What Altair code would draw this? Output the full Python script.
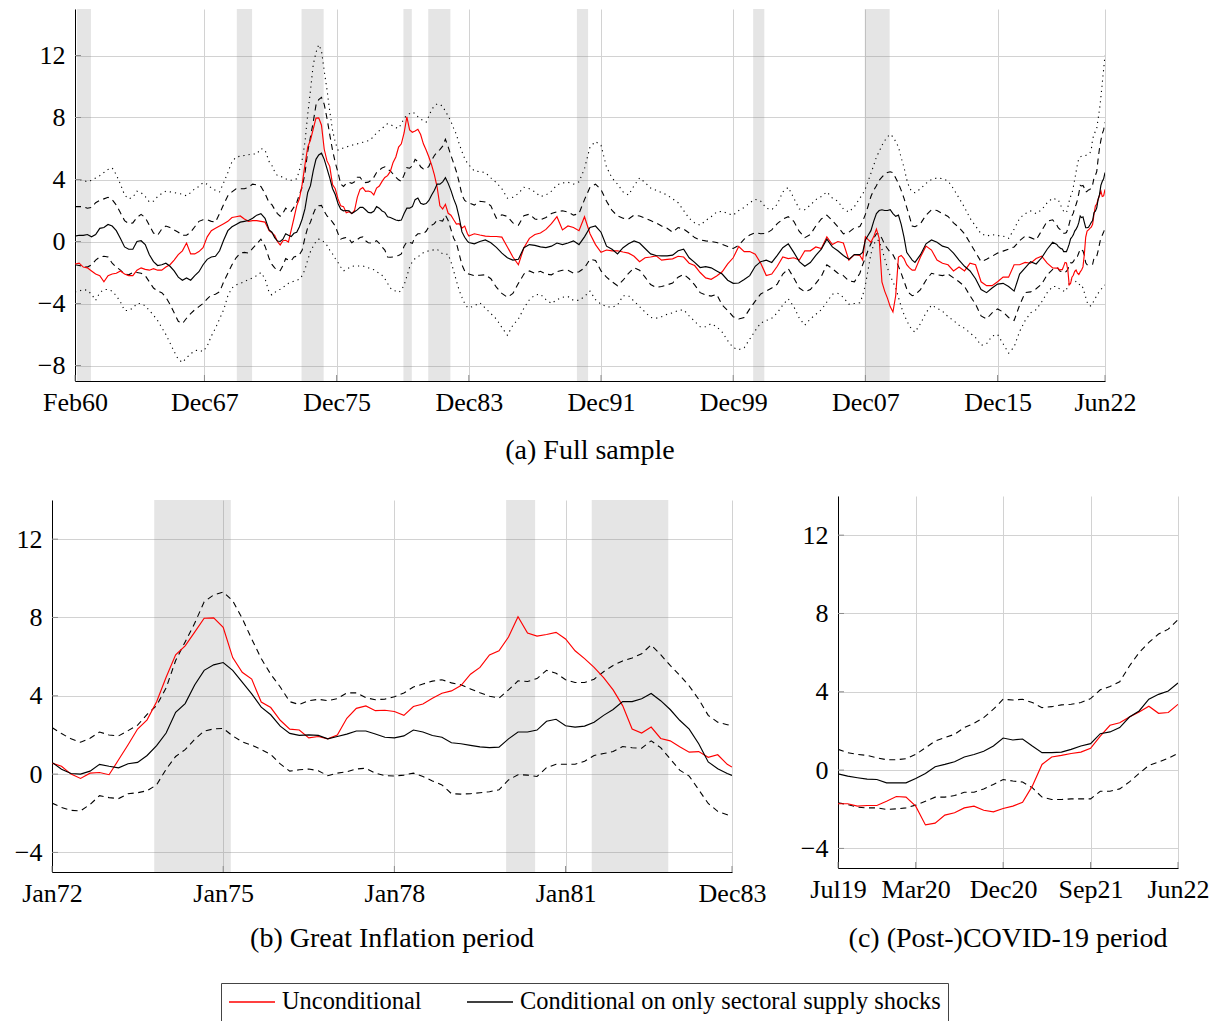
import altair as alt
import pandas as pd

FONT = "Liberation Serif"

# Sampling grid of the series: (first month, last month, step in months)
GRID = [
    ("1960-02", "1971-11", 3),
    ("1972-01", "1983-11", 2),
    ("1983-12", "1983-12", 1),
    ("1984-04", "2007-08", 4),
    ("2007-10", "2010-12", 2),
    ("2011-04", "2019-04", 4),
    ("2019-07", "2022-06", 1),
]

# Unconditional forecast-error series (red)
unconditional = [
    -1.45, -1.4, -1.65, -1.7, -1.9, -2.1, -2.2, -2.6, -2.2, -2.1, -2.05, -1.9, -2.1, -2.2, -2.2, -1.85,
    -1.7, -1.8, -1.85, -1.75, -1.85, -1.85, -1.65, -1.5, -1.2, -0.85, -0.6, -0.1, -0.8, -0.8, -0.65, -0.4,
    0.3, 0.7, 0.85, 1.0, 1.15, 1.3, 1.55, 1.6, 1.65, 1.45, 1.3, 1.35, 1.35, 1.3, 1.25, 0.7,
    0.56, 0.4, 0.0, -0.22, 0.05, 0.08, -0.03, 0.73, 1.5, 2.3, 2.77, 3.7, 4.95, 6.09, 6.55, 7.25,
    7.96, 7.98, 7.5, 5.95, 5.2, 4.85, 3.68, 3.4, 2.75, 2.3, 2.25, 1.85, 1.92, 1.8, 2.0, 2.85,
    3.36, 3.48, 3.24, 3.26, 3.2, 3.0, 3.45, 3.58, 3.88, 4.13, 4.25, 4.52, 5.1, 5.45, 6.09, 6.3,
    7.0, 8.04, 7.2, 7.05, 7.13, 7.24, 6.9, 6.3, 5.9, 5.45, 4.93, 4.3, 3.5, 2.3, 2.1, 2.4,
    1.82, 1.7, 1.4, 1.12, 1.15, 0.86, 0.99, 0.5, 0.36,
    0.5, 0.42, 0.35, 0.32, 0.32, 0.28, -0.35, -1.0, -1.5, -0.4, 0.2, 0.45, 0.55, 0.78, 1.15, 1.6,
    0.75, 1.0, 0.9, 0.7, 1.6, 0.5, -0.2, -0.7, -0.55, -0.6, -0.6, -0.68, -0.75, -0.95, -1.3, -1.05,
    -1.0, -0.93, -1.2, -1.15, -1.12, -0.95, -1.0, -1.4, -1.55, -2.0, -2.35, -2.44, -2.22, -1.95, -1.45, -1.05,
    -0.32, -0.65, -0.65, -0.82, -1.4, -2.2, -2.1, -1.6, -1.0, -1.1, -1.05, -1.2, -0.6, -0.6, -0.35, -0.45,
    0.3, -0.2, 0.0, -0.1, -1.2, -0.85, -0.9,
    -1.2, 0.3, 0.12, -0.05, 0.3, 0.8, 0.2, -2.6, -3.2, -3.65, -4.2, -4.55, -3.5, -1.0, -0.9, -1.1,
    -1.5, -1.7, -1.85, -1.85,
    -1.0, -0.3, -0.55, -1.2, -1.4, -1.5, -1.9, -1.65, -1.9, -1.4, -1.5, -2.6, -2.85, -2.85, -2.6, -2.3,
    -2.3, -1.5, -1.5, -1.35, -1.4, -1.1, -0.95, -1.4, -1.7,
    -1.72, -1.72, -1.84, -1.81, -1.81, -1.59, -1.35, -1.38, -1.84, -2.8, -2.71, -2.3, -2.18, -1.93, -1.84, -2.05,
    -2.13, -1.96, -1.84, -1.64, -0.82, 0.29, 0.67, 0.75, 0.85, 0.92, 1.11, 1.74, 2.29, 2.42, 2.71, 2.97,
    3.26, 2.9, 2.94, 3.36,
]

# Conditional on only sectoral supply shocks: median (black solid)
conditional = [
    0.35, 0.4, 0.4, 0.45, 0.3, 0.45, 0.85, 0.9, 1.1, 1.0, 0.7, 0.2, -0.35, -0.5, -0.5, 0.0,
    0.05, -0.2, -0.85, -1.3, -1.55, -1.5, -1.4, -1.6, -1.9, -2.3, -2.5, -2.35, -2.5, -2.2, -1.95, -1.5,
    -1.15, -1.0, -0.95, -0.6, 0.1, 0.7, 0.95, 1.1, 1.25, 1.3, 1.35, 1.5, 1.7, 1.8, 1.5, 0.75,
    0.6, 0.25, 0.03, 0.0, 0.15, 0.5, 0.4, 0.32, 0.53, 0.6, 0.95, 1.45, 2.1, 3.16, 3.6, 4.55,
    5.3, 5.58, 5.7, 5.3, 4.7, 4.1, 3.42, 3.03, 2.45, 2.08, 1.98, 2.0, 1.98, 1.8, 1.92, 2.04,
    2.2, 2.2, 2.05, 1.88, 1.85, 1.95, 2.25, 2.15, 1.97, 1.88, 1.6, 1.55, 1.47, 1.39, 1.35, 1.38,
    1.8, 2.15, 2.15, 2.25, 2.7, 2.8, 2.47, 2.4, 2.45, 2.65, 3.0, 3.3, 3.71, 3.7, 3.85, 4.12,
    3.75, 3.3, 2.75, 2.3, 1.55, 0.62, 0.27, 0.03, -0.07,
    -0.15, 0.0, 0.1, -0.08, -0.38, -0.75, -1.05, -1.2, -1.15, -0.4, -0.2, -0.25, -0.35, -0.39, -0.3, -0.1,
    -0.2, -0.1, 0.04, -0.2, 0.3, 0.9, 1.0, 0.6, -0.3, -0.5, -0.8, -0.4, -0.15, 0.04, -0.1, -0.45,
    -0.8, -0.9, -0.93, -0.93, -0.88, -0.6, -0.5, -1.05, -1.35, -1.68, -1.62, -1.7, -1.9, -2.1, -2.5, -2.7,
    -2.68, -2.45, -2.2, -1.6, -1.3, -1.2, -1.35, -0.9, -0.4, -0.15, -0.7, -1.3, -1.6, -1.36, -0.9, -0.5,
    0.15, -0.35, -0.6, -0.9, -1.15, -0.85, -0.85,
    -0.7, 0.1, 0.4, 0.7, 1.3, 1.8, 2.0, 2.05, 2.0, 2.0, 2.05, 1.8, 1.62, 1.7, 1.1, 0.3,
    -0.7, -0.95, -1.2, -1.35,
    -0.85, -0.15, 0.1, -0.05, -0.3, -0.4, -0.75, -1.2, -1.6, -1.9, -2.4, -3.1, -3.3, -3.0, -2.75, -2.7,
    -2.9, -3.2, -2.1, -1.7, -1.3, -1.45, -1.05, -0.5, -0.05,
    -0.19, -0.31, -0.39, -0.46, -0.48, -0.65, -0.65, -0.65, -0.43, -0.17, 0.17, 0.29, 0.43, 0.67, 0.8, 0.96,
    1.23, 1.64, 1.54, 1.59, 1.23, 0.89, 0.89, 0.92, 1.06, 1.23, 1.35, 1.86, 1.95, 2.17, 2.71, 3.02,
    3.62, 3.87, 4.04, 4.45,
]

# Conditional band, inner (dashed)
upper_68 = [
    2.25, 2.25, 2.25, 2.15, 2.2, 2.5, 2.65, 2.75, 2.85, 2.7, 2.35, 1.85, 1.35, 1.15, 1.2, 1.55,
    1.75, 1.55, 1.05, 0.55, 0.4, 0.8, 1.0, 0.9, 0.75, 0.6, 0.4, 0.4, 0.6, 0.95, 1.3, 1.4,
    1.4, 1.3, 1.25, 1.8, 2.4, 2.95, 3.2, 3.4, 3.4, 3.4, 3.5, 3.7, 3.65, 3.55, 3.1, 2.5,
    2.38, 2.07, 1.8, 1.63, 1.83, 2.15, 2.0, 1.95, 2.22, 2.5, 3.05, 3.5, 4.4, 5.8, 6.75, 7.7,
    8.8, 9.15, 9.3, 8.85, 7.95, 6.9, 5.9, 5.1, 4.45, 3.7, 3.55, 3.75, 3.82, 3.75, 3.85, 4.15,
    4.15, 3.9, 3.8, 3.83, 3.95, 4.14, 4.45, 4.6, 4.75, 4.82, 4.66, 4.56, 4.35, 4.15, 3.98, 3.88,
    4.3, 4.76, 4.73, 4.88, 5.3, 5.15, 4.82, 4.68, 4.68, 4.85, 5.23, 5.55, 5.78, 5.93, 6.15, 6.6,
    6.1, 5.55, 5.05, 4.5, 3.82, 3.0, 2.65, 2.52, 2.5,
    2.35, 2.6, 2.55, 2.3, 1.5, 1.72, 1.62, 1.2, 1.05, 1.67, 1.76, 1.45, 1.4, 1.55, 1.8, 1.92,
    1.98, 1.9, 1.7, 1.8, 2.7, 3.5, 3.7, 3.35, 2.6, 2.0, 1.65, 1.5, 1.45, 1.7, 1.65, 1.5,
    1.35, 1.2, 1.0, 0.85, 0.6, 0.9, 0.8, 0.55, 0.25, 0.1, 0.04, 0.0, -0.06, -0.18, -0.32, -0.45,
    -0.25, 0.15, 0.42, 0.57, 0.5, 0.52, 0.75, 1.15, 1.45, 1.6, 1.3, 0.65, 0.25, 0.45, 1.0, 1.45,
    1.7, 1.35, 0.95, 0.5, 0.6, 0.88, 0.97,
    1.3, 1.75, 2.3, 2.9, 3.3, 3.6, 3.95, 4.15, 4.35, 4.45, 4.5, 4.45, 4.1, 3.75, 3.3, 2.8,
    2.2, 1.6, 1.0, 0.95,
    1.15, 1.7, 2.05, 2.0, 1.8, 1.62, 1.2, 0.9, 0.5, -0.1, -0.7, -1.3, -1.15, -0.95, -0.75, -0.62,
    -0.5, -0.35, 0.05, 0.35, 0.25, 0.1, 0.7, 1.3, 1.4,
    1.06, 0.89, 0.8, 0.75, 0.63, 0.53, 0.53, 0.58, 0.8, 1.14, 1.48, 1.66, 1.83, 2.17, 2.39, 2.68,
    3.11, 3.62, 3.58, 3.62, 3.45, 3.19, 3.24, 3.33, 3.36, 3.45, 3.65, 4.1, 4.27, 4.51, 5.32, 6.0,
    6.52, 6.95, 7.2, 7.68,
]
lower_68 = [
    -1.5, -1.55, -1.6, -1.65, -1.5, -1.2, -1.0, -0.95, -1.0, -1.4, -1.65, -1.85, -2.1, -2.15, -2.0, -2.0,
    -2.05, -2.2, -2.6, -3.0, -3.2, -3.3, -3.6, -4.05, -4.6, -5.15, -5.3, -4.95, -4.65, -4.4, -4.2, -4.0,
    -3.7, -3.45, -3.4, -3.25, -2.6, -2.05, -1.5, -1.05, -0.75, -0.7, -0.75, -0.45, -0.15, 0.15, -0.3, -1.1,
    -1.48, -1.7, -1.85, -1.88, -1.55, -1.1, -1.2, -1.25, -1.0, -0.95, -0.85, -0.55, 0.25, 0.9, 1.25, 1.77,
    2.2, 2.31, 2.33, 1.95, 1.65, 1.48, 1.25, 1.0, 0.52, 0.15, 0.22, 0.26, 0.17, -0.08, 0.05, 0.12,
    0.26, 0.3, 0.05, -0.08, -0.1, -0.05, 0.05, -0.12, -0.35, -0.55, -1.0, -1.02, -1.0, -0.95, -0.9, -0.8,
    -0.3, -0.03, -0.05, -0.12, 0.33, 0.5, 0.5, 0.5, 0.66, 0.95, 1.05, 1.15, 1.41, 1.35, 1.32, 1.7,
    1.35, 0.78, 0.2, -0.1, -0.8, -1.5, -1.9, -2.08, -2.1,
    -2.2, -2.18, -2.15, -2.4, -2.95, -3.35, -3.6, -3.35, -2.7, -2.1, -1.9, -2.05, -1.92, -2.1, -2.15, -1.95,
    -1.85, -1.85, -2.05, -1.95, -1.7, -1.14, -1.22, -1.9, -2.3, -2.6, -2.85, -2.5, -2.05, -1.7, -1.85, -2.3,
    -2.78, -2.97, -2.9, -2.8, -2.68, -2.3, -2.12, -2.4, -2.8, -3.3, -3.45, -3.52, -3.41, -4.1, -4.45, -4.85,
    -5.0, -4.9, -4.35, -3.85, -3.38, -3.2, -3.0, -2.75, -2.1, -1.75, -2.35, -3.0, -3.25, -3.1, -2.7, -2.25,
    -1.5, -1.75, -2.05, -2.2, -2.55, -2.6, -2.05,
    -1.5, -1.05, -0.55, -0.15, 0.2, 0.5, 0.5, 0.2, -0.2, -0.45, -0.7, -0.85, -1.2, -1.6, -2.05, -2.55,
    -3.05, -3.35, -3.5, -3.45,
    -3.1, -2.5, -2.05, -2.15, -2.2, -2.1, -2.35, -2.6, -2.9, -3.5, -4.05, -4.8, -5.0, -4.6, -4.35, -4.55,
    -4.9, -5.1, -4.1, -3.3, -3.25, -3.05, -2.75, -2.15, -1.8,
    -1.67, -1.76, -1.89, -1.93, -1.93, -2.01, -1.98, -1.93, -1.79, -1.59, -1.38, -1.38, -1.3, -1.13, -1.13, -0.96,
    -0.73, -0.48, -0.56, -0.61, -0.9, -1.38, -1.5, -1.5, -1.47, -1.47, -1.47, -1.08, -1.08, -0.96, -0.6, -0.17,
    0.24, 0.41, 0.61, 0.85,
]

# Conditional band, outer (dotted)
upper_90 = [
    4.0, 4.0, 3.95, 3.85, 3.95, 4.1, 4.25, 4.45, 4.65, 4.75, 4.3, 3.7, 3.0, 2.75, 2.85, 3.25,
    3.15, 2.9, 2.55, 2.6, 2.9, 3.1, 3.25, 3.2, 3.15, 3.1, 3.05, 2.95, 3.15, 3.4, 3.55, 3.8,
    3.7, 3.45, 3.3, 3.2, 3.8, 4.45, 5.15, 5.45, 5.5, 5.55, 5.6, 5.65, 5.65, 6.0, 5.9, 5.15,
    4.9, 4.5, 4.25, 4.2, 4.15, 4.05, 3.95, 3.95, 4.0, 4.04, 4.6, 5.3, 6.4, 8.2, 9.75, 11.4,
    12.2, 12.7, 12.3, 11.0, 9.8, 8.4, 7.2, 6.4, 5.9, 5.95, 6.05, 6.1, 6.15, 6.2, 6.27, 6.3,
    6.35, 6.4, 6.45, 6.5, 6.6, 6.8, 7.0, 7.15, 7.3, 7.45, 7.6, 7.55, 7.45, 7.35, 7.3, 7.6,
    7.95, 8.15, 8.25, 8.35, 8.25, 8.05, 7.9, 7.8, 7.7, 8.1, 8.5, 8.75, 8.88, 8.85, 8.72, 8.4,
    8.1, 7.75, 7.3, 6.9, 6.3, 5.8, 5.35, 5.05, 4.95,
    4.55, 4.5, 4.45, 4.1, 3.8, 3.4, 2.8, 2.85, 3.1, 3.5, 3.4, 3.2, 2.9, 3.0, 3.25, 3.65,
    3.78, 3.82, 3.7, 3.85, 4.7, 6.1, 6.45, 6.2, 4.8, 4.1, 3.7, 3.2, 3.0, 3.6, 4.1, 3.8,
    3.45, 3.3, 3.15, 3.0, 2.75, 2.5, 2.0, 1.5, 1.2, 1.05, 1.35, 1.6, 1.9, 1.95, 1.8, 1.7,
    2.0, 2.2, 2.5, 2.72, 2.6, 2.15, 2.05, 2.4, 3.2, 3.5, 2.8, 2.1, 2.05, 2.35, 2.7, 2.9,
    3.2, 2.8, 2.6, 2.1, 1.9, 2.25, 2.8,
    3.05, 3.4, 3.9, 4.4, 4.9, 5.45, 5.8, 6.2, 6.5, 6.75, 6.92, 6.75, 6.45, 6.1, 5.4, 4.8,
    4.0, 3.45, 3.2, 3.15,
    3.4, 3.75, 4.0, 4.1, 4.05, 3.9, 3.4, 2.8, 2.2, 1.5, 1.0, 0.5, 0.35, 0.45, 0.38, 0.35,
    0.2, 0.8, 1.5, 1.8, 1.97, 1.8, 2.05, 2.5, 2.8,
    2.7, 2.7, 2.5, 2.3, 2.1, 1.95, 1.88, 1.86, 2.2, 2.6, 2.9, 3.1, 3.5, 4.0, 4.5, 5.0,
    5.35, 5.45, 5.5, 5.52, 5.53, 5.55, 5.6, 5.65, 5.7, 5.9, 6.6, 6.9, 7.1, 7.3, 7.9, 8.5,
    9.3, 10.2, 11.1, 12.0,
]
lower_90 = [
    -3.25, -3.2, -3.1, -3.15, -3.4, -3.8, -3.3, -3.1, -3.1, -3.2, -3.5, -3.9, -4.45, -4.45, -4.3, -4.0,
    -4.0, -4.15, -4.45, -4.75, -5.1, -5.55, -6.0, -6.55, -7.1, -7.6, -7.8, -7.5, -7.25, -7.05, -7.0, -7.1,
    -6.75, -6.1, -5.6, -5.0, -4.4, -3.5, -3.0, -2.8, -2.7, -2.6, -2.45, -2.35, -2.2, -2.0, -2.4, -3.3,
    -3.45, -3.3, -3.15, -3.08, -2.95, -2.85, -2.7, -2.63, -2.55, -2.5, -2.44, -2.2, -1.8, -1.2, -0.65, -0.3,
    0.0, 0.15, 0.1, -0.05, -0.25, -0.55, -0.8, -1.1, -1.35, -1.65, -1.9, -1.8, -1.7, -1.6, -1.58, -1.58,
    -1.58, -1.58, -1.63, -1.7, -1.75, -1.82, -1.95, -2.05, -2.18, -2.4, -2.7, -3.0, -3.15, -3.2, -3.28, -3.15,
    -2.8, -2.25, -1.65, -1.3, -1.1, -1.0, -0.85, -0.72, -0.65, -0.6, -0.57, -0.53, -0.5, -0.65, -0.8, -0.82,
    -0.82, -1.3, -1.9, -2.55, -3.15, -3.6, -4.0, -4.25, -4.28,
    -4.15, -3.95, -4.3, -4.65, -5.0, -5.55, -6.05, -5.4, -5.0, -4.3, -3.75, -3.45, -3.4, -3.75, -4.0, -3.75,
    -3.6, -3.55, -3.8, -3.8, -3.55, -3.2, -3.75, -4.05, -4.2, -4.25, -4.1, -3.5, -3.5, -3.85, -4.2, -4.55,
    -4.9, -4.95, -4.85, -4.7, -4.6, -4.45, -4.4, -4.8, -5.15, -5.5, -5.5, -5.3, -5.5, -5.85, -6.4, -6.85,
    -6.98, -6.85, -6.3, -5.75, -5.25, -5.1, -4.95, -4.6, -4.1, -3.7, -4.2, -4.95, -5.4, -5.0, -4.7, -4.4,
    -3.9, -3.4, -3.35, -3.6, -4.05, -4.0, -3.95,
    -3.5, -2.8, -1.8, -0.8, -0.2, 0.1, 0.05, -0.5, -1.1, -1.7, -2.2, -2.6, -3.0, -3.6, -4.2, -4.7,
    -5.1, -5.45, -5.7, -5.85,
    -5.3, -4.6, -4.1, -4.3, -4.5, -4.85, -5.1, -5.4, -5.6, -5.9, -6.2, -6.7, -6.6, -6.1, -6.0, -6.6,
    -7.2, -6.8, -5.8, -5.1, -4.6, -4.4, -3.9, -3.3, -2.9,
    -2.9, -3.0, -3.05, -3.1, -3.15, -3.2, -3.25, -3.1, -2.9, -2.7, -2.5, -2.45, -2.45, -2.5, -2.6, -2.7,
    -2.8, -2.75, -2.8, -3.0, -3.3, -3.6, -3.9, -4.1, -4.15, -4.15, -4.0, -3.8, -3.65, -3.5, -3.35, -3.2,
    -3.1, -3.0, -2.9, -2.8,
]

# NBER recessions (peak month, trough month)
rec_peak = ["1960-04", "1969-12", "1973-11", "1980-01", "1981-07", "1990-07", "2001-03", "2007-12"]
rec_trough = ["1961-02", "1970-11", "1975-03", "1980-07", "1982-11", "1991-03", "2001-11", "2009-06"]

SERIES = ["Unconditional", "Conditional on only sectoral supply shocks"]


def month_index(s):
    y, mo = map(int, s.split("-"))
    return (y - 1960) * 12 + mo - 1


months = []
for first, last, step in GRID:
    months += list(range(month_index(first), month_index(last) + 1, step))

n = len(months)
for arr in (unconditional, conditional, upper_68, lower_68, upper_90, lower_90):
    assert len(arr) == n, (len(arr), n)

df = pd.DataFrame({
    "m": months,
    "unc": unconditional,
    "cond": conditional,
    "hi68": upper_68,
    "lo68": lower_68,
    "hi90": upper_90,
    "lo90": lower_90,
})
long = pd.concat([
    pd.DataFrame({"m": df.m, "value": df.unc, "series": SERIES[0]}),
    pd.DataFrame({"m": df.m, "value": df.cond, "series": SERIES[1]}),
])
rec = pd.DataFrame({
    "x0": [month_index(p) - 0.5 for p in rec_peak],
    "x1": [month_index(t) - 0.4 for t in rec_trough],
})

MONTH_LABEL = (
    "['Jan','Feb','Mar','Apr','May','Jun','Jul','Aug','Sep','Oct','Nov','Dec'][datum.value % 12]"
    " + format((60 + floor(datum.value / 12)) % 100, '02d')"
)

LEGEND = alt.Legend(
    orient="none", legendX=169, legendY=974, direction="horizontal", title=None,
    symbolType="stroke", symbolSize=2116, symbolStrokeWidth=1.5, clipHeight=24,
    labelFont=FONT, labelFontSize=24.4, labelColor="black", labelOffset=6, labelLimit=900,
    columnPadding=44, padding=7, strokeColor="#444444", fillColor="white",
)
COLOR = alt.Color("series:N", scale=alt.Scale(domain=SERIES, range=["#ff0000", "#000000"]), legend=LEGEND)


def panel(xdom, ydom, yticks, xticks, w, h, caption, dotted, min_ext, cap_offset=22):
    sub = df[(df.m >= xdom[0]) & (df.m <= xdom[1])]
    lsub = long[(long.m >= xdom[0]) & (long.m <= xdom[1])]
    rsub = rec[(rec.x1 > xdom[0]) & (rec.x0 < xdom[1])]

    xscale = alt.Scale(domain=xdom, nice=False, zero=False)
    xaxis = alt.Axis(values=xticks, labelExpr=MONTH_LABEL, title=None, labelFlush=False,
                     labelOverlap=False, grid=True)
    yscale = alt.Scale(domain=ydom, nice=False, zero=False)
    yaxis = alt.Axis(values=yticks, title=None, grid=True, minExtent=min_ext, labelOverlap=False)

    def X(field):
        return alt.X(field, scale=xscale, axis=xaxis)

    def Y(field):
        return alt.Y(field, scale=yscale, axis=yaxis)

    layers = []
    if len(rsub):
        layers.append(
            alt.Chart(rsub).mark_rect(color="#7f7f7f", opacity=0.2, clip=True).encode(
                x=X("x0:Q"), x2="x1:Q", y=alt.value(0), y2=alt.value(h)
            )
        )
    bands = [("hi68", [6, 4.5]), ("lo68", [6, 4.5])]
    if dotted:
        bands = [("hi90", [1.2, 4]), ("lo90", [1.2, 4])] + bands
    for col, dash in bands:
        layers.append(
            alt.Chart(sub).mark_line(color="black", strokeWidth=1.1, strokeDash=dash, clip=True).encode(
                x=X("m:Q"), y=Y(f"{col}:Q")
            )
        )
    for name in SERIES:
        layers.append(
            alt.Chart(lsub).transform_filter(alt.datum.series == name)
            .mark_line(strokeWidth=1.15, clip=True)
            .encode(x=X("m:Q"), y=Y("value:Q"), color=COLOR)
        )
    # inward tick marks
    layers.append(
        alt.Chart(pd.DataFrame({"m": xticks})).mark_rule(color="#8c8c8c", strokeWidth=1).encode(
            x=X("m:Q"), y=alt.value(h - 6), y2=alt.value(h)
        )
    )
    layers.append(
        alt.Chart(pd.DataFrame({"v": yticks})).mark_rule(color="#8c8c8c", strokeWidth=1).encode(
            y=Y("v:Q"), x=alt.value(0), x2=alt.value(6)
        )
    )
    return alt.layer(*layers).properties(
        width=w, height=h,
        title=alt.TitleParams(caption, orient="bottom", anchor="middle", offset=cap_offset, baseline="top"),
    )


def blank(w, h):
    # empty cell used to indent a panel inside a flush-bounded concat
    return (
        alt.Chart(pd.DataFrame({"k": [0]}))
        .mark_rule(opacity=0, strokeWidth=0)
        .encode(x=alt.value(1), y=alt.value(1), y2=alt.value(2))
        .properties(width=w, height=h)
    )


full = panel([1, 749], [-9, 15], [-8, -4, 0, 4, 8, 12],
             [1, 95, 191, 287, 383, 479, 575, 671, 749], 1030, 372, "(a) Full sample", True, 30)
great = panel([144, 287], [-5, 14], [-4, 0, 4, 8, 12],
              [144, 180, 216, 252, 287], 680, 372, "(b) Great Inflation period", False, 43, cap_offset=19)
covid = panel([714, 749], [-5, 14], [-4, 0, 4, 8, 12],
              [714, 722, 731, 740, 749], 340, 372, "(c) (Post-)COVID-19 period", False, 43, cap_offset=23)

top_row = alt.hconcat(blank(23, 372), full, spacing=0, bounds="flush")
great_cell = alt.vconcat(blank(680, 4), great, spacing=0, bounds="flush")

chart = (
    alt.vconcat(top_row, alt.hconcat(great_cell, covid, spacing=29), spacing=31)
    .properties(padding={"left": 9, "top": 9, "right": 4, "bottom": 0}, background="white")
    .configure_view(stroke=None)
    .configure_axis(
        domainColor="black", domainWidth=1, gridColor="#d2d2d2", gridWidth=1,
        labelFont=FONT, labelFontSize=26, labelColor="black", ticks=False, labelPadding=8,
    )
    .configure_axisY(labelPadding=10)
    .configure_title(font=FONT, fontSize=28, fontWeight="normal", color="black")
)

chart.save("out.html", embed_options={"renderer": "svg", "actions": False})
